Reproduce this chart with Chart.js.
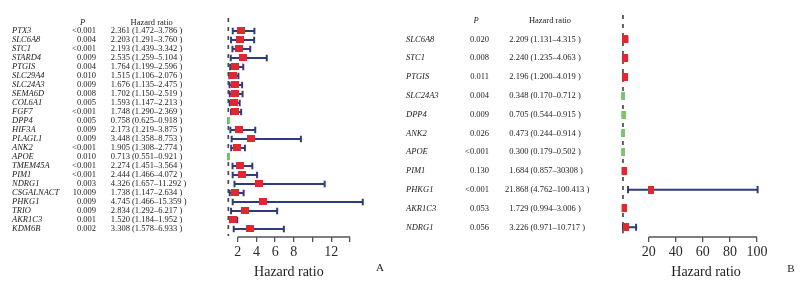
<!DOCTYPE html>
<html><head><meta charset="utf-8">
<script src="https://cdn.jsdelivr.net/npm/chart.js@4.4.1/dist/chart.umd.min.js"></script>
<style>
html,body{margin:0;padding:0;background:#fff;}
#wrap{position:relative;width:806px;height:291px;overflow:hidden;}
canvas{position:absolute;top:0;}
#ca{left:0;} #cb{left:403px;}
</style></head><body>
<div id="wrap"><canvas id="ca" width="403" height="291"></canvas><canvas id="cb" width="403" height="291"></canvas></div>
<script>
// ---------- Panel A data ----------
const genesA = ['PTX3','SLC6A8','STC1','STARD4','PTGIS','SLC29A4','SLC24A3','SEMA6D','COL6A1','FGF7','DPP4','HIF3A','PLAGL1','ANK2','APOE','TMEM45A','PIM1','NDRG1','CSGALNACT','PHKG1','TRIO','AKR1C3','KDM6B'];
const pA = ['<0.001','0.004','<0.001','0.009','0.004','0.010','0.009','0.008','0.005','<0.001','0.005','0.009','0.009','<0.001','0.010','<0.001','<0.001','0.003','10.009','0.009','0.009','0.001','0.002'];
const hrA = [2.361,2.203,2.193,2.535,1.764,1.515,1.676,1.702,1.593,1.748,0.758,2.173,3.448,1.905,0.713,2.274,2.444,4.326,1.738,4.745,2.834,1.520,3.308];
const loA = [1.472,1.291,1.439,1.259,1.199,1.106,1.135,1.150,1.147,1.290,0.625,1.219,1.358,1.308,0.551,1.451,1.466,1.657,1.147,1.466,1.292,1.184,1.578];
const hiA = [3.786,3.760,3.342,5.104,2.596,2.076,2.475,2.519,2.213,2.369,0.918,3.875,8.753,2.774,0.921,3.564,4.072,11.292,2.634,15.359,6.217,1.952,6.933];
const hrTextA = ['2.361 (1.472–3.786 )','2.203 (1.291–3.760 )','2.193 (1.439–3.342 )','2.535 (1.259–5.104 )','1.764 (1.199–2.596 )','1.515 (1.106–2.076 )','1.676 (1.135–2.475 )','1.702 (1.150–2.519 )','1.593 (1.147–2.213 )','1.748 (1.290–2.369 )','0.758 (0.625–0.918 )','2.173 (1.219–3.875 )','3.448 (1.358–8.753 )','1.905 (1.308–2.774 )','0.713 (0.551–0.921 )','2.274 (1.451–3.564 )','2.444 (1.466–4.072 )','4.326 (1.657–11.292 )','1.738 (1.147–2.634 )','4.745 (1.466–15.359 )','2.834 (1.292–6.217 )','1.520 (1.184–1.952 )','3.308 (1.578–6.933 )'];
const ticksA = [2,4,6,8,10,12,14];
const tickLabelsA = ['2','4','6','8','','12',''];

// ---------- Panel B data ----------
const genesB = ['SLC6A8','STC1','PTGIS','SLC24A3','DPP4','ANK2','APOE','PIM1','PHKG1','AKR1C3','NDRG1'];
const pB = ['0.020','0.008','0.011','0.004','0.009','0.026','<0.001','0.130','<0.001','0.053','0.056'];
const hrB = [2.209,2.240,2.196,0.348,0.705,0.473,0.300,1.684,21.868,1.729,3.226];
const loB = [1.131,1.235,1.200,0.170,0.544,0.244,0.179,0.857,4.762,0.994,0.971];
const hiB = [4.315,4.063,4.019,0.712,0.915,0.914,0.502,3.308,100.413,3.006,10.717];
const hrTextB = ['2.209 (1.131–4.315 )','2.240 (1.235–4.063 )','2.196 (1.200–4.019 )','0.348 (0.170–0.712 )','0.705 (0.544–0.915 )','0.473 (0.244–0.914 )','0.300 (0.179–0.502 )','1.684 (0.857–30308 )','21.868 (4.762–100.413 )','1.729 (0.994–3.006 )','3.226 (0.971–10.717 )'];
const ticksB = [20,40,60,80,100];
const tickLabelsB = ['20','40','60','80','100'];

// ---------- styles ----------
const SERIF = '"Liberation Serif","Times New Roman",serif';
const RED = '#e2282e', GREEN = '#7cc66a', NAVY = '#2f3b7d', AXIS = '#50545e', TEXT = '#1c1c1c';
const FS = 8.5;

function box(w, h, color) {
  const c = document.createElement('canvas');
  c.width = w; c.height = h;
  const g = c.getContext('2d');
  g.fillStyle = color; g.fillRect(0, 0, w, h);
  return c;
}

function forest(el, d, o) {
  const red = box(o.bw, o.bh, RED), green = box(o.bw, o.bh, GREEN);
  const squares = d.hr.map((v, i) => ({x: v, y: i}));
  const ci = [];
  d.lo.forEach((lo, i) => {
    const hi = d.hi[i];
    ci.push({x: lo, y: i - o.cap}, {x: lo, y: i + o.cap}, {x: lo, y: null},
            {x: lo, y: i}, {x: hi, y: i}, {x: hi, y: null},
            {x: hi, y: i - o.cap}, {x: hi, y: i + o.cap}, {x: hi, y: null});
  });
  const table = {
    id: 'table' + o.letter,
    afterDraw(chart) {
      const ctx = chart.ctx, ys = chart.scales.y, xs = chart.scales.x;
      ctx.save();
      ctx.fillStyle = TEXT;
      ctx.textBaseline = 'middle';
      const hy = ys.getPixelForValue(o.headRow);
      ctx.font = `italic ${FS}px ${SERIF}`; ctx.textAlign = 'center';
      ctx.fillText('P', o.pHead, hy);
      ctx.font = `${FS}px ${SERIF}`;
      ctx.fillText('Hazard ratio', o.hrHead, hy);
      d.genes.forEach((g, i) => {
        const py = ys.getPixelForValue(i);
        ctx.font = `italic ${FS}px ${SERIF}`; ctx.textAlign = 'left';
        ctx.fillText(g, o.geneX, py);
        ctx.font = `${FS}px ${SERIF}`; ctx.textAlign = 'right';
        ctx.fillText(d.p[i], o.pRight, py);
        const s = d.hrText[i];
        const w = ctx.measureText(s.split('.')[0]).width;
        ctx.textAlign = 'left';
        ctx.fillText(s, o.hrDot - w, py);
      });
      // axis line between first and last tick
      const ab = chart.chartArea.bottom;
      ctx.strokeStyle = AXIS; ctx.lineWidth = 1.3;
      ctx.beginPath();
      ctx.moveTo(xs.getPixelForValue(d.ticks[0]), ab);
      ctx.lineTo(xs.getPixelForValue(d.ticks[d.ticks.length - 1]), ab);
      ctx.stroke();
      ctx.font = `11px ${SERIF}`; ctx.textAlign = 'center';
      ctx.fillText(o.letter, o.letterX, o.letterY);
      ctx.restore();
    }
  };
  return new Chart(el, {
    type: 'scatter',
    data: {datasets: [
      {data: squares, pointStyle: d.hr.map(v => v < 1 ? green : red), pointRadius: 4, pointHoverRadius: 4, pointBorderWidth: 0,
       backgroundColor: d.hr.map(v => v < 1 ? GREEN : RED), borderColor: 'rgba(0,0,0,0)', clip: 0},
      {type: 'line', data: ci, borderColor: NAVY, borderWidth: 2, pointRadius: 0, pointHoverRadius: 0,
       clip: {left: 0, right: false, top: false, bottom: false}, spanGaps: false, fill: false},
      {type: 'line', data: [{x: 1, y: o.refTop}, {x: 1, y: o.refBottom}], borderColor: '#4a4a4a', borderWidth: 1.7,
       borderDash: [4, 5], pointRadius: 0, pointHoverRadius: 0, clip: false, fill: false}
    ]},
    options: {
      responsive: false, animation: false, devicePixelRatio: 1, events: [],
      layout: {padding: {left: o.left, right: o.right, top: o.top, bottom: 0}},
      plugins: {legend: {display: false}, tooltip: {enabled: false}},
      scales: {
        x: {
          type: 'linear', min: o.xmin, max: o.xmax, bounds: 'data',
          afterBuildTicks: s => { s.ticks = d.ticks.map(v => ({value: v})); },
          afterFit: s => { s.height = o.axisH; },
          border: {display: false},
          grid: {drawOnChartArea: false, drawTicks: true, tickLength: 5, color: AXIS, lineWidth: 1.3},
          ticks: {padding: 2, color: '#2a2a2a', font: {family: SERIF, size: 14}, autoSkip: false, maxRotation: 0,
                  callback: (v, i) => d.tickLabels[i] !== undefined ? d.tickLabels[i] : ''},
          title: {display: true, text: 'Hazard ratio', color: TEXT, font: {family: SERIF, size: 14}, padding: {top: 0, bottom: 10}}
        },
        y: {type: 'linear', display: false, reverse: true, min: o.ymin, max: o.ymax}
      }
    },
    plugins: [table]
  });
}

forest(document.getElementById('ca'),
  {genes: genesA, p: pA, hr: hrA, lo: loA, hi: hiA, hrText: hrTextA, ticks: ticksA, tickLabels: tickLabelsA},
  {letter: 'A', left: 227.2, right: 52.5, top: 10, axisH: 54, xmin: 0.88, xmax: 14.05, ymin: -2.333, ymax: 22.889,
   cap: 0.37, bw: 8, bh: 7, refTop: -1.44, refBottom: 22.78, headRow: -0.92,
   geneX: 12, pRight: 96, pHead: 82.5, hrDot: 115, hrHead: 151.7, letterX: 380, letterY: 268});

forest(document.getElementById('cb'),
  {genes: genesB, p: pB, hr: hrB, lo: loB, hi: hiB, hrText: hrTextB, ticks: ticksB, tickLabels: tickLabelsB},
  {letter: 'B', left: 218.6, right: 15.5, top: 10, axisH: 54, xmin: 0, xmax: 124.7, ymin: -1.561, ymax: 10.517,
   cap: 0.19, bw: 6, bh: 8, refTop: -1.3, refBottom: 10.32, headRow: -0.975,
   geneX: 3, pRight: 86, pHead: 73, hrDot: 110.5, hrHead: 147, letterX: 388, letterY: 269});
</script>
</body></html>
